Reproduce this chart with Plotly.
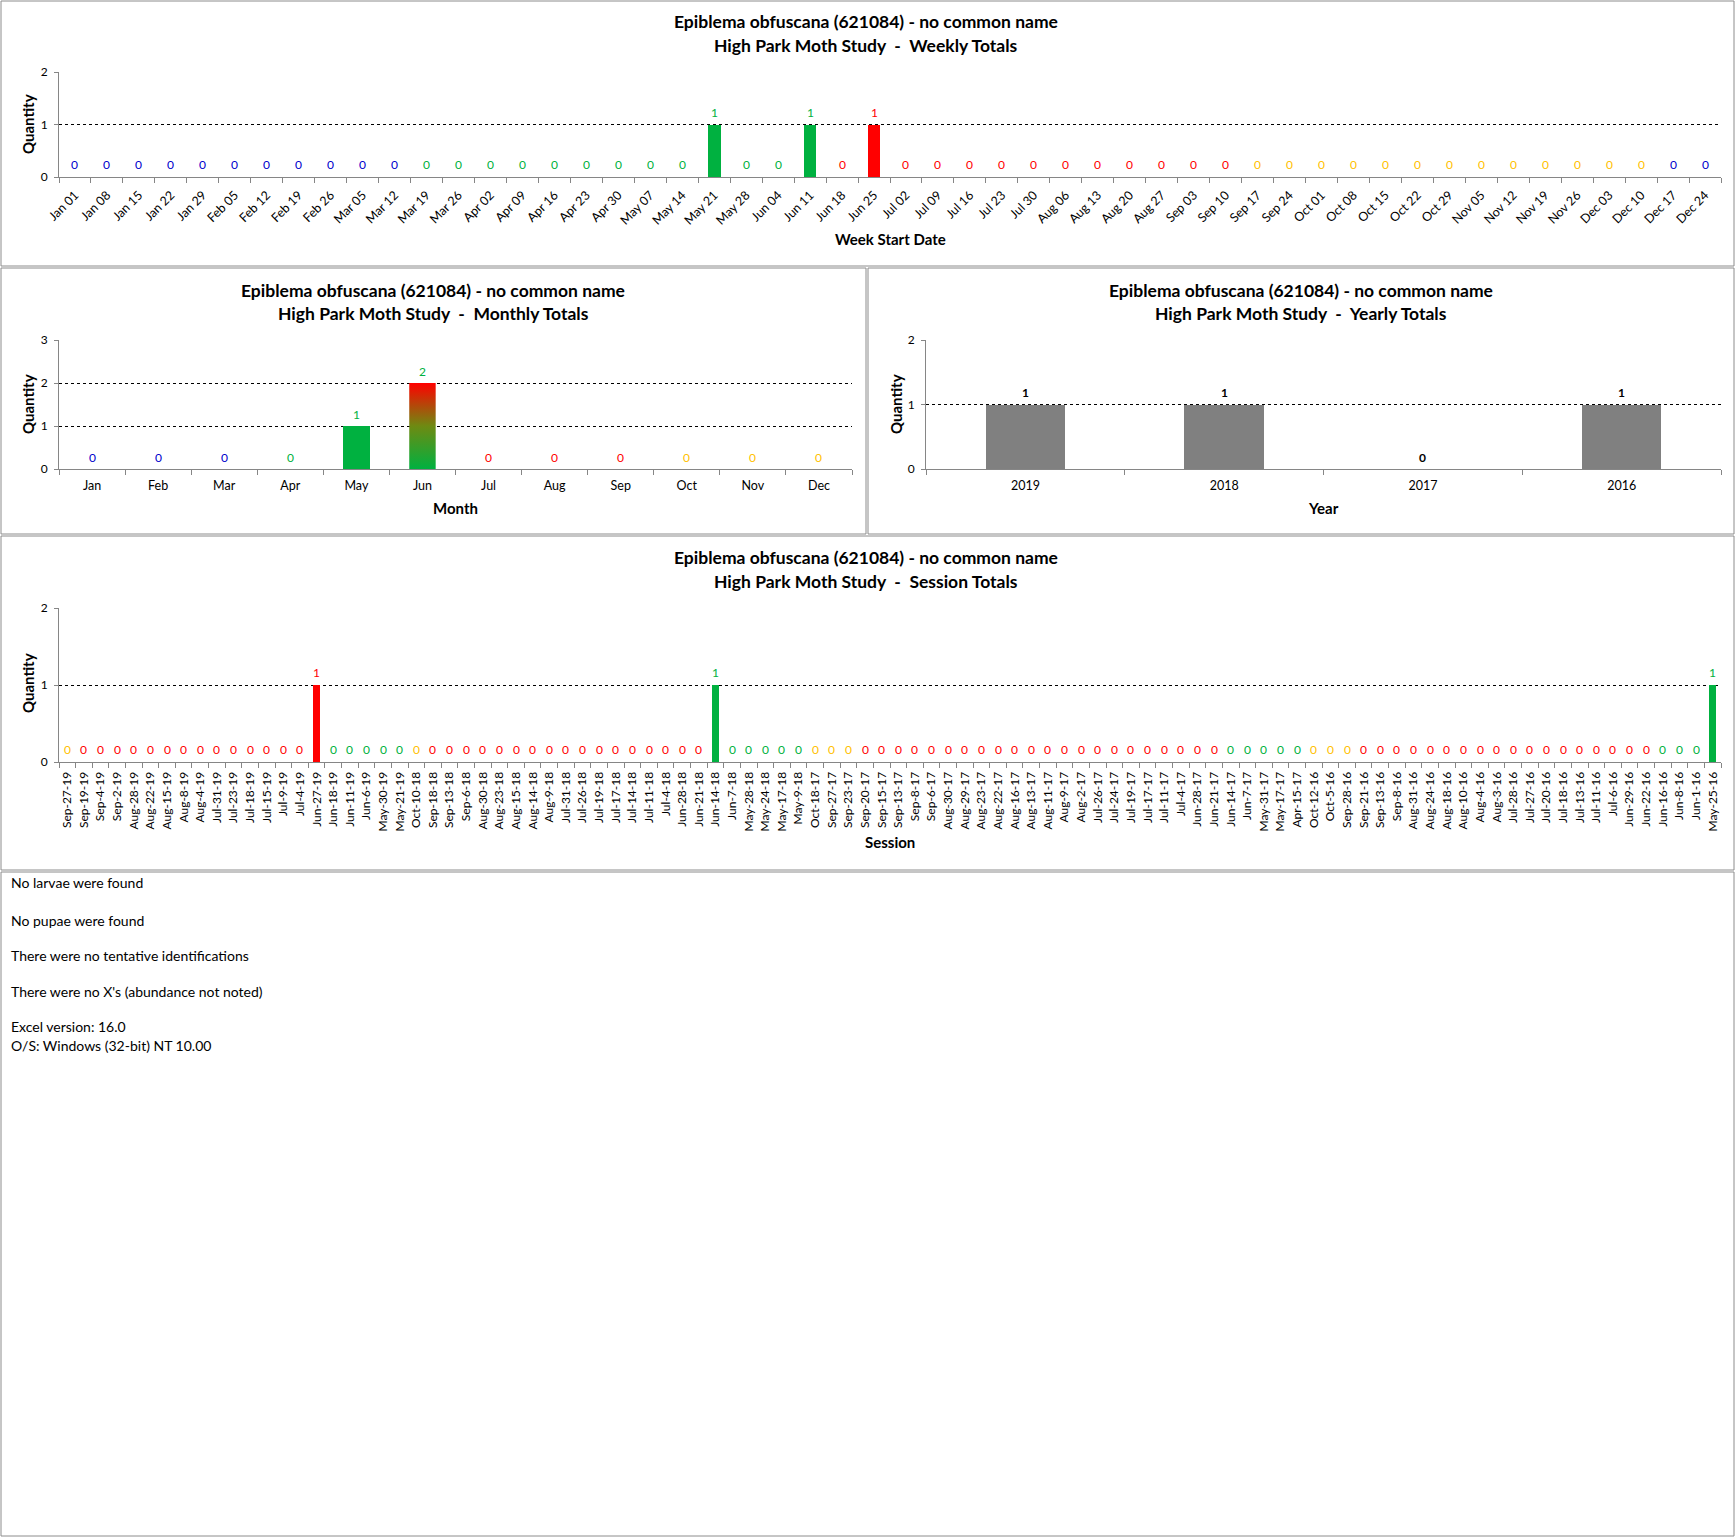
import plotly.graph_objects as go

W, H = 1736, 1538

species = "Epiblema obfuscana (621084) - no common name"
study = "High Park Moth Study"

# colour codes: B winter blue, G spring green, R summer red, Y autumn yellow, M mixed (gradient)
week_labels = ["Jan 01", "Jan 08", "Jan 15", "Jan 22", "Jan 29", "Feb 05", "Feb 12", "Feb 19", "Feb 26",
               "Mar 05", "Mar 12", "Mar 19", "Mar 26", "Apr 02", "Apr 09", "Apr 16", "Apr 23", "Apr 30",
               "May 07", "May 14", "May 21", "May 28", "Jun 04", "Jun 11", "Jun 18", "Jun 25", "Jul 02",
               "Jul 09", "Jul 16", "Jul 23", "Jul 30", "Aug 06", "Aug 13", "Aug 20", "Aug 27", "Sep 03",
               "Sep 10", "Sep 17", "Sep 24", "Oct 01", "Oct 08", "Oct 15", "Oct 22", "Oct 29", "Nov 05",
               "Nov 12", "Nov 19", "Nov 26", "Dec 03", "Dec 10", "Dec 17", "Dec 24"]
week_values = [0, 0, 0, 0, 0, 0, 0, 0, 0, 0, 0, 0, 0, 0, 0, 0, 0, 0, 0, 0, 1, 0, 0, 1, 0, 1,
               0, 0, 0, 0, 0, 0, 0, 0, 0, 0, 0, 0, 0, 0, 0, 0, 0, 0, 0, 0, 0, 0, 0, 0, 0, 0]
week_colors = "BBBBBBBBBBBGGGGGGGGGGGGGRRRRRRRRRRRRRYYYYYYYYYYYYYBB"

month_labels = ["Jan", "Feb", "Mar", "Apr", "May", "Jun", "Jul", "Aug", "Sep", "Oct", "Nov", "Dec"]
month_values = [0, 0, 0, 0, 1, 2, 0, 0, 0, 0, 0, 0]
month_colors = "BBBGGMRRRYYY"

year_labels = ["2019", "2018", "2017", "2016"]
year_values = [1, 1, 0, 1]

session_labels = ["Sep-27-19", "Sep-19-19", "Sep-4-19", "Sep-2-19", "Aug-28-19", "Aug-22-19", "Aug-15-19",
                  "Aug-8-19", "Aug-4-19", "Jul-31-19", "Jul-23-19", "Jul-18-19", "Jul-15-19", "Jul-9-19",
                  "Jul-4-19", "Jun-27-19", "Jun-18-19", "Jun-11-19", "Jun-6-19", "May-30-19", "May-21-19",
                  "Oct-10-18", "Sep-18-18", "Sep-13-18", "Sep-6-18", "Aug-30-18", "Aug-23-18", "Aug-15-18",
                  "Aug-14-18", "Aug-9-18", "Jul-31-18", "Jul-26-18", "Jul-19-18", "Jul-17-18", "Jul-14-18",
                  "Jul-11-18", "Jul-4-18", "Jun-28-18", "Jun-21-18", "Jun-14-18", "Jun-7-18", "May-28-18",
                  "May-24-18", "May-17-18", "May-9-18", "Oct-18-17", "Sep-27-17", "Sep-23-17", "Sep-20-17",
                  "Sep-15-17", "Sep-13-17", "Sep-8-17", "Sep-6-17", "Aug-30-17", "Aug-29-17", "Aug-23-17",
                  "Aug-22-17", "Aug-16-17", "Aug-13-17", "Aug-11-17", "Aug-9-17", "Aug-2-17", "Jul-26-17",
                  "Jul-24-17", "Jul-19-17", "Jul-17-17", "Jul-11-17", "Jul-4-17", "Jun-28-17", "Jun-21-17",
                  "Jun-14-17", "Jun-7-17", "May-31-17", "May-17-17", "Apr-15-17", "Oct-12-16", "Oct-5-16",
                  "Sep-28-16", "Sep-21-16", "Sep-13-16", "Sep-8-16", "Aug-31-16", "Aug-24-16", "Aug-18-16",
                  "Aug-10-16", "Aug-4-16", "Aug-3-16", "Jul-28-16", "Jul-27-16", "Jul-20-16", "Jul-18-16",
                  "Jul-13-16", "Jul-11-16", "Jul-6-16", "Jun-29-16", "Jun-22-16", "Jun-16-16", "Jun-8-16",
                  "Jun-1-16", "May-25-16"]
session_values = [0, 0, 0, 0, 0, 0, 0, 0, 0, 0, 0, 0, 0, 0, 0, 1, 0, 0, 0, 0,
                  0, 0, 0, 0, 0, 0, 0, 0, 0, 0, 0, 0, 0, 0, 0, 0, 0, 0, 0, 1,
                  0, 0, 0, 0, 0, 0, 0, 0, 0, 0, 0, 0, 0, 0, 0, 0, 0, 0, 0, 0,
                  0, 0, 0, 0, 0, 0, 0, 0, 0, 0, 0, 0, 0, 0, 0, 0, 0, 0, 0, 0,
                  0, 0, 0, 0, 0, 0, 0, 0, 0, 0, 0, 0, 0, 0, 0, 0, 0, 0, 0, 1]
session_colors = ("YRRRRRRRRRRRRRRRGGGGGYRRRRRRRRRRRRRRRRRGGGGGGYYY"
                  "RRRRRRRRRRRRRRRRRRRRRRGGGGGYYYRRRRRRRRRRRRRRRRRRGGGG")

notes = ["No larvae were found", "No pupae were found", "There were no tentative identifications",
         "There were no X's (abundance not noted)", "Excel version: 16.0", "O/S: Windows (32-bit) NT 10.00"]

COL = {"B": "#0000CC", "G": "#00B140", "R": "#FF0000", "Y": "#FFC000", "M": "#00B140", "K": "#000000"}
BAR_GRAY = "#808080"
AX_GRAY = "#868686"
FONT = "Lato, 'Open Sans', sans-serif"
NB = "\u00a0"


def fx(p):
    return p / W


def fy(p):
    return 1 - p / H


def bar_fill(codes):
    return ["rgba(0,0,0,0)" if c == "M" else COL[c] for c in codes]


fig = go.Figure()


def value_labels(ys, codes, ax, bold=False):
    # x given as category serial number, so labels like "2019" are not read as numbers
    for i, (y, c) in enumerate(zip(ys, codes)):
        fig.add_annotation(x=i, y=y, xref="x" + ax, yref="y" + ax, text=str(y), showarrow=False,
                           yshift=12, yanchor="middle",
                           font=dict(size=12, color=COL[c], weight="bold" if bold else "normal"))


# weekly
fig.add_bar(x=week_labels, y=week_values, width=0.4, marker_color=bar_fill(week_colors),
            marker_line_width=0, xaxis="x", yaxis="y")
value_labels(week_values, week_colors, "")

# monthly (numeric positions so the mixed month can get a gradient fill)
mpos = list(range(len(month_labels)))
fig.add_bar(x=mpos, y=month_values, width=0.4, marker_color=bar_fill(month_colors),
            marker_line_width=0, xaxis="x2", yaxis="y2")
for i, (v, c) in enumerate(zip(month_values, month_colors)):
    if c == "M":
        fig.add_scatter(x=[i - 0.2, i + 0.2, i + 0.2, i - 0.2, i - 0.2], y=[0, 0, v, v, 0],
                        mode="lines", line_width=0, fill="toself",
                        fillgradient=dict(type="vertical",
                                          colorscale=[[0, COL["G"]], [0.5, "#6E8A12"], [1, COL["R"]]]),
                        xaxis="x2", yaxis="y2")
value_labels(month_values, month_colors, "2")

# yearly
fig.add_bar(x=year_labels, y=year_values, width=0.4, marker_color=BAR_GRAY, marker_line_width=0,
            xaxis="x3", yaxis="y3")
value_labels(year_values, "K" * len(year_values), "3", bold=True)

# sessions
fig.add_bar(x=session_labels, y=session_values, width=0.4, marker_color=bar_fill(session_colors),
            marker_line_width=0, xaxis="x4", yaxis="y4")
value_labels(session_values, session_colors, "4")

fig.update_traces(showlegend=False, hoverinfo="x+y")

xcommon = dict(showline=True, linecolor=AX_GRAY, ticks="outside", ticklen=5, tickcolor=AX_GRAY,
               showgrid=False, zeroline=False, automargin=False, ticklabelstandoff=5,
               tickfont=dict(size=12.5, color="black"))
ycommon = dict(showline=True, linecolor=AX_GRAY, ticks="outside", ticklen=4, tickcolor=AX_GRAY,
               showgrid=True, gridcolor="black", griddash="dot", gridwidth=1, zeroline=False,
               automargin=False, ticklabelstandoff=4, tick0=0, dtick=1, tickfont=dict(size=12, color="black"))

fig.update_layout(
    width=W, height=H, margin=dict(l=0, r=0, t=0, b=0, pad=0, autoexpand=False),
    paper_bgcolor="white", plot_bgcolor="white", font=dict(family=FONT, color="black"),
    bargap=0, showlegend=False,
    xaxis=dict(xcommon, domain=[fx(59), fx(1721)], anchor="y", type="category", tickson="boundaries",
               tickangle=-45, range=[-0.5, len(week_labels) - 0.5]),
    yaxis=dict(ycommon, domain=[fy(177), fy(72)], anchor="x", range=[0, 2]),
    xaxis2=dict(xcommon, domain=[fx(59), fx(852)], anchor="y2", range=[-0.5, len(month_labels) - 0.5],
                tickvals=mpos, ticktext=month_labels, ticks="",
                minor=dict(ticks="outside", tick0=-0.5, dtick=1, ticklen=5, tickcolor=AX_GRAY, showgrid=False)),
    yaxis2=dict(ycommon, domain=[fy(469), fy(340)], anchor="x2", range=[0, 3]),
    xaxis3=dict(xcommon, domain=[fx(926), fx(1721)], anchor="y3", type="category", tickson="boundaries",
                range=[-0.5, len(year_labels) - 0.5]),
    yaxis3=dict(ycommon, domain=[fy(469), fy(340)], anchor="x3", range=[0, 2]),
    xaxis4=dict(xcommon, domain=[fx(59), fx(1721)], anchor="y4", type="category", tickson="boundaries",
                tickangle=-90, tickfont=dict(size=12, color="black"), ticklabelstandoff=4,
                range=[-0.5, len(session_labels) - 0.5]),
    yaxis4=dict(ycommon, domain=[fy(762), fy(608)], anchor="x4", range=[0, 2]),
)

# panel frames
frames = [(1, 1, 1734, 266), (1, 268, 866, 534), (868, 268, 1734, 534), (1, 536, 1734, 870), (1, 872, 1734, 1536)]
for x0, y0, x1, y1 in frames:
    fig.add_shape(type="rect", xref="paper", yref="paper", x0=fx(x0), x1=fx(x1), y0=fy(y1), y1=fy(y0),
                  line=dict(color="#8C8C8C", width=1), fillcolor="rgba(0,0,0,0)", layer="below")


def label(text, x, y, size, bold=True, angle=0, anchor="center"):
    fig.add_annotation(text=text, x=fx(x), y=fy(y), xref="paper", yref="paper", showarrow=False,
                       xanchor=anchor, yanchor="middle", textangle=angle,
                       font=dict(size=size, color="black", weight="bold" if bold else "normal"))


# titles
sep = NB + NB + "-" + NB + NB
for cx, y1, y2, kind in [(866, 22, 45, "Weekly Totals"), (433, 290, 313, "Monthly Totals"),
                         (1301, 290, 313, "Yearly Totals"), (866, 558, 581, "Session Totals")]:
    label(species.replace(" - ", NB + "-" + NB), cx, y1, 17.5)
    label(study + sep + kind, cx, y2, 17.5)

# axis titles
label("Week Start Date", 890, 239, 15)
label("Month", 455, 508, 15)
label("Year", 1323, 508, 15)
label("Session", 890, 842, 15)
for qx, qy in [(28, 124), (28, 404), (896, 404), (28, 683)]:
    label("Quantity", qx, qy, 15, angle=-90)

# notes
for txt, ny in zip(notes, [883, 920, 955, 991, 1026, 1045]):
    label(txt, 9, ny, 14, bold=False, anchor="left")

fig.write_html("out.html", config={"displayModeBar": False},
               post_script="document.body.style.margin='0px';document.body.style.overflow='hidden';")
